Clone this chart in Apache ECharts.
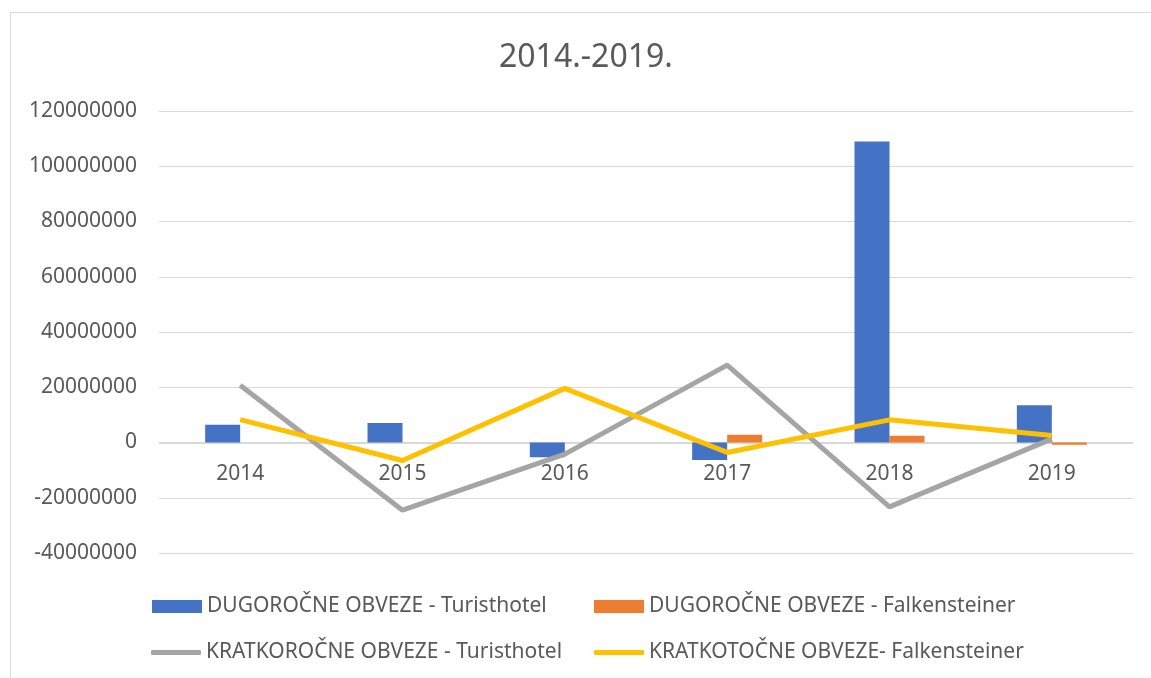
<!DOCTYPE html>
<html>
<head>
<meta charset="utf-8">
<script src="https://cdn.jsdelivr.net/npm/echarts@6/dist/echarts.min.js"></script>
<style>
    html, body { margin: 0; padding: 0; background: #ffffff; }
    #chart { width: 1151px; height: 678px; position: relative; }
    #frame {
        position: absolute; left: 10px; top: 12px; width: 1160px; height: 700px;
        border: 1px solid #d9d9d9; pointer-events: none;
    }
</style>
</head>
<body>
<div id="frame"></div>
<div id="chart"></div>
<script>
    // podaci procijenjeni s grafikona
    var years = ['2014', '2015', '2016', '2017', '2018', '2019'];
    var dugoTuristhotel = [6400000, 7100000, -5300000, -6300000, 109000000, 13500000];
    var dugoFalkensteiner = [0, 0, 0, 2800000, 2400000, -800000];
    var kratkoTuristhotel = [20700000, -24500000, -4200000, 28000000, -23300000, 1300000];
    var kratkoFalkensteiner = [8300000, -6500000, 19600000, -3600000, 8200000, 2500000];

    var names = [
        'DUGOROČNE OBVEZE - Turisthotel',
        'DUGOROČNE OBVEZE - Falkensteiner',
        'KRATKOROČNE OBVEZE - Turisthotel',
        'KRATKOTOČNE OBVEZE- Falkensteiner'
    ];

    var font = '"Noto Sans", "Open Sans", sans-serif';
    var textColor = '#595959';

    // jedna legenda po stavci, da stupci budu poravnati kao u Excelu
    function legendAt(name, left, top, isLine) {
        return {
            data: [isLine ? { name: name, icon: 'roundRect' } : { name: name, icon: 'rect' }],
            left: left,
            top: top,
            itemWidth: 50,
            itemHeight: isLine ? 5 : 13,
            itemGap: 0,
            padding: 0,
            textStyle: { color: textColor, fontSize: 21, fontFamily: font }
        };
    }

    var chart = echarts.init(document.getElementById('chart'));
    chart.setOption({
        animation: false,
        color: ['#4472C4', '#ED7D31', '#A5A5A5', '#FFC000'],
        title: {
            text: '2014.-2019.',
            left: 494,
            top: 37,
            textStyle: { color: textColor, fontSize: 32, fontWeight: 'normal', fontFamily: font }
        },
        legend: [
            legendAt(names[0], 152, 596, false),
            legendAt(names[1], 594, 596, false),
            legendAt(names[2], 151, 642, true),
            legendAt(names[3], 594, 642, true)
        ],
        grid: {
            left: 159,
            right: 18,
            top: 111,
            bottom: 125,
            containLabel: false
        },
        xAxis: {
            type: 'category',
            data: years,
            // os kategorija leži na nuli (-40M..120M, nula je 1/4 visine od dna)
            offset: -110,
            axisLine: { onZero: false, lineStyle: { color: '#d9d9d9', width: 1 } },
            axisTick: { show: false },
            axisLabel: { color: textColor, fontSize: 21, fontFamily: font, margin: 21 }
        },
        yAxis: {
            type: 'value',
            min: -40000000,
            max: 120000000,
            interval: 20000000,
            axisLine: { show: false },
            axisTick: { show: false },
            splitLine: { lineStyle: { color: '#d9d9d9', width: 1 } },
            axisLabel: {
                color: textColor, fontSize: 21, fontFamily: font, margin: 22,
                formatter: function (v) { return String(v); }
            }
        },
        series: [
            {
                name: names[0],
                type: 'bar',
                barWidth: 35,
                barGap: '0%',
                data: dugoTuristhotel
            },
            {
                name: names[1],
                type: 'bar',
                barWidth: 35,
                barGap: '0%',
                data: dugoFalkensteiner
            },
            {
                name: names[2],
                type: 'line',
                symbol: 'none',
                lineStyle: { width: 5 },
                data: kratkoTuristhotel
            },
            {
                name: names[3],
                type: 'line',
                symbol: 'none',
                lineStyle: { width: 5 },
                data: kratkoFalkensteiner
            }
        ]
    });
</script>
</body>
</html>
